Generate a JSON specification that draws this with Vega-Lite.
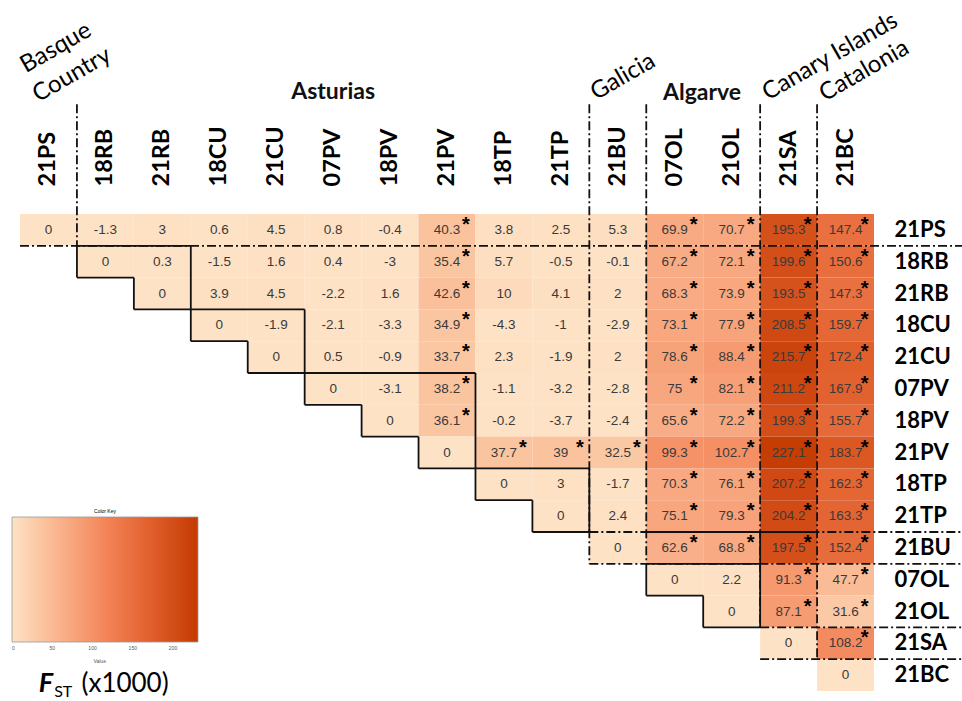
{
  "$schema": "https://vega.github.io/schema/vega-lite/v6.json",
  "width": 854,
  "height": 477,
  "autosize": {"type": "none"},
  "padding": {"left": 20, "top": 214, "right": 88, "bottom": 10},
  "background": "white",
  "config": {"view": {"stroke": null}, "font": "Lato"},
  "datasets": {
    "cells": [
      {"r":"21PS","c":"21PS","v":0,"s":0},{"r":"21PS","c":"18RB","v":-1.3,"s":0},{"r":"21PS","c":"21RB","v":3,"s":0},{"r":"21PS","c":"18CU","v":0.6,"s":0},{"r":"21PS","c":"21CU","v":4.5,"s":0},{"r":"21PS","c":"07PV","v":0.8,"s":0},{"r":"21PS","c":"18PV","v":-0.4,"s":0},{"r":"21PS","c":"21PV","v":40.3,"s":1},{"r":"21PS","c":"18TP","v":3.8,"s":0},{"r":"21PS","c":"21TP","v":2.5,"s":0},{"r":"21PS","c":"21BU","v":5.3,"s":0},{"r":"21PS","c":"07OL","v":69.9,"s":1},{"r":"21PS","c":"21OL","v":70.7,"s":1},{"r":"21PS","c":"21SA","v":195.3,"s":1},{"r":"21PS","c":"21BC","v":147.4,"s":1},
      {"r":"18RB","c":"18RB","v":0,"s":0},{"r":"18RB","c":"21RB","v":0.3,"s":0},{"r":"18RB","c":"18CU","v":-1.5,"s":0},{"r":"18RB","c":"21CU","v":1.6,"s":0},{"r":"18RB","c":"07PV","v":0.4,"s":0},{"r":"18RB","c":"18PV","v":-3,"s":0},{"r":"18RB","c":"21PV","v":35.4,"s":1},{"r":"18RB","c":"18TP","v":5.7,"s":0},{"r":"18RB","c":"21TP","v":-0.5,"s":0},{"r":"18RB","c":"21BU","v":-0.1,"s":0},{"r":"18RB","c":"07OL","v":67.2,"s":1},{"r":"18RB","c":"21OL","v":72.1,"s":1},{"r":"18RB","c":"21SA","v":199.6,"s":1},{"r":"18RB","c":"21BC","v":150.6,"s":1},
      {"r":"21RB","c":"21RB","v":0,"s":0},{"r":"21RB","c":"18CU","v":3.9,"s":0},{"r":"21RB","c":"21CU","v":4.5,"s":0},{"r":"21RB","c":"07PV","v":-2.2,"s":0},{"r":"21RB","c":"18PV","v":1.6,"s":0},{"r":"21RB","c":"21PV","v":42.6,"s":1},{"r":"21RB","c":"18TP","v":10,"s":0},{"r":"21RB","c":"21TP","v":4.1,"s":0},{"r":"21RB","c":"21BU","v":2,"s":0},{"r":"21RB","c":"07OL","v":68.3,"s":1},{"r":"21RB","c":"21OL","v":73.9,"s":1},{"r":"21RB","c":"21SA","v":193.5,"s":1},{"r":"21RB","c":"21BC","v":147.3,"s":1},
      {"r":"18CU","c":"18CU","v":0,"s":0},{"r":"18CU","c":"21CU","v":-1.9,"s":0},{"r":"18CU","c":"07PV","v":-2.1,"s":0},{"r":"18CU","c":"18PV","v":-3.3,"s":0},{"r":"18CU","c":"21PV","v":34.9,"s":1},{"r":"18CU","c":"18TP","v":-4.3,"s":0},{"r":"18CU","c":"21TP","v":-1,"s":0},{"r":"18CU","c":"21BU","v":-2.9,"s":0},{"r":"18CU","c":"07OL","v":73.1,"s":1},{"r":"18CU","c":"21OL","v":77.9,"s":1},{"r":"18CU","c":"21SA","v":208.5,"s":1},{"r":"18CU","c":"21BC","v":159.7,"s":1},
      {"r":"21CU","c":"21CU","v":0,"s":0},{"r":"21CU","c":"07PV","v":0.5,"s":0},{"r":"21CU","c":"18PV","v":-0.9,"s":0},{"r":"21CU","c":"21PV","v":33.7,"s":1},{"r":"21CU","c":"18TP","v":2.3,"s":0},{"r":"21CU","c":"21TP","v":-1.9,"s":0},{"r":"21CU","c":"21BU","v":2,"s":0},{"r":"21CU","c":"07OL","v":78.6,"s":1},{"r":"21CU","c":"21OL","v":88.4,"s":1},{"r":"21CU","c":"21SA","v":215.7,"s":1},{"r":"21CU","c":"21BC","v":172.4,"s":1},
      {"r":"07PV","c":"07PV","v":0,"s":0},{"r":"07PV","c":"18PV","v":-3.1,"s":0},{"r":"07PV","c":"21PV","v":38.2,"s":1},{"r":"07PV","c":"18TP","v":-1.1,"s":0},{"r":"07PV","c":"21TP","v":-3.2,"s":0},{"r":"07PV","c":"21BU","v":-2.8,"s":0},{"r":"07PV","c":"07OL","v":75,"s":1},{"r":"07PV","c":"21OL","v":82.1,"s":1},{"r":"07PV","c":"21SA","v":211.2,"s":1},{"r":"07PV","c":"21BC","v":167.9,"s":1},
      {"r":"18PV","c":"18PV","v":0,"s":0},{"r":"18PV","c":"21PV","v":36.1,"s":1},{"r":"18PV","c":"18TP","v":-0.2,"s":0},{"r":"18PV","c":"21TP","v":-3.7,"s":0},{"r":"18PV","c":"21BU","v":-2.4,"s":0},{"r":"18PV","c":"07OL","v":65.6,"s":1},{"r":"18PV","c":"21OL","v":72.2,"s":1},{"r":"18PV","c":"21SA","v":199.3,"s":1},{"r":"18PV","c":"21BC","v":155.7,"s":1},
      {"r":"21PV","c":"21PV","v":0,"s":0},{"r":"21PV","c":"18TP","v":37.7,"s":1},{"r":"21PV","c":"21TP","v":39,"s":1},{"r":"21PV","c":"21BU","v":32.5,"s":1},{"r":"21PV","c":"07OL","v":99.3,"s":1},{"r":"21PV","c":"21OL","v":102.7,"s":1},{"r":"21PV","c":"21SA","v":227.1,"s":1},{"r":"21PV","c":"21BC","v":183.7,"s":1},
      {"r":"18TP","c":"18TP","v":0,"s":0},{"r":"18TP","c":"21TP","v":3,"s":0},{"r":"18TP","c":"21BU","v":-1.7,"s":0},{"r":"18TP","c":"07OL","v":70.3,"s":1},{"r":"18TP","c":"21OL","v":76.1,"s":1},{"r":"18TP","c":"21SA","v":207.2,"s":1},{"r":"18TP","c":"21BC","v":162.3,"s":1},
      {"r":"21TP","c":"21TP","v":0,"s":0},{"r":"21TP","c":"21BU","v":2.4,"s":0},{"r":"21TP","c":"07OL","v":75.1,"s":1},{"r":"21TP","c":"21OL","v":79.3,"s":1},{"r":"21TP","c":"21SA","v":204.2,"s":1},{"r":"21TP","c":"21BC","v":163.3,"s":1},
      {"r":"21BU","c":"21BU","v":0,"s":0},{"r":"21BU","c":"07OL","v":62.6,"s":1},{"r":"21BU","c":"21OL","v":68.8,"s":1},{"r":"21BU","c":"21SA","v":197.5,"s":1},{"r":"21BU","c":"21BC","v":152.4,"s":1},
      {"r":"07OL","c":"07OL","v":0,"s":0},{"r":"07OL","c":"21OL","v":2.2,"s":0},{"r":"07OL","c":"21SA","v":91.3,"s":1},{"r":"07OL","c":"21BC","v":47.7,"s":1},
      {"r":"21OL","c":"21OL","v":0,"s":0},{"r":"21OL","c":"21SA","v":87.1,"s":1},{"r":"21OL","c":"21BC","v":31.6,"s":1},
      {"r":"21SA","c":"21SA","v":0,"s":0},{"r":"21SA","c":"21BC","v":108.2,"s":1},
      {"r":"21BC","c":"21BC","v":0,"s":0}
    ],
    "dashlines": [
      {"x1":1,"y1":-3.45,"x2":1,"y2":1},
      {"x1":0,"y1":1,"x2":16.55,"y2":1},
      {"x1":10,"y1":-3.45,"x2":10,"y2":11},
      {"x1":11,"y1":-3.45,"x2":11,"y2":11},
      {"x1":13,"y1":-3.45,"x2":13,"y2":13},
      {"x1":14,"y1":-3.45,"x2":14,"y2":14},
      {"x1":10,"y1":10,"x2":16.55,"y2":10},
      {"x1":10,"y1":11,"x2":16.55,"y2":11},
      {"x1":13,"y1":13,"x2":16.55,"y2":13},
      {"x1":13,"y1":14,"x2":16.55,"y2":14}
    ],
    "solidlines": [
      {"x1":1,"y1":1,"x2":3,"y2":1},{"x1":3,"y1":1,"x2":3,"y2":3},{"x1":1,"y1":1,"x2":1,"y2":2},{"x1":1,"y1":2,"x2":2,"y2":2},{"x1":2,"y1":2,"x2":2,"y2":3},{"x1":2,"y1":3,"x2":3,"y2":3},
      {"x1":3,"y1":3,"x2":5,"y2":3},{"x1":5,"y1":3,"x2":5,"y2":5},{"x1":3,"y1":3,"x2":3,"y2":4},{"x1":3,"y1":4,"x2":4,"y2":4},{"x1":4,"y1":4,"x2":4,"y2":5},{"x1":4,"y1":5,"x2":5,"y2":5},
      {"x1":5,"y1":5,"x2":8,"y2":5},{"x1":8,"y1":5,"x2":8,"y2":8},{"x1":5,"y1":5,"x2":5,"y2":6},{"x1":5,"y1":6,"x2":6,"y2":6},{"x1":6,"y1":6,"x2":6,"y2":7},{"x1":6,"y1":7,"x2":7,"y2":7},{"x1":7,"y1":7,"x2":7,"y2":8},{"x1":7,"y1":8,"x2":8,"y2":8},
      {"x1":8,"y1":8,"x2":10,"y2":8},{"x1":10,"y1":8,"x2":10,"y2":10},{"x1":8,"y1":8,"x2":8,"y2":9},{"x1":8,"y1":9,"x2":9,"y2":9},{"x1":9,"y1":9,"x2":9,"y2":10},{"x1":9,"y1":10,"x2":10,"y2":10},
      {"x1":11,"y1":10,"x2":14,"y2":10},{"x1":13,"y1":10,"x2":13,"y2":11},
      {"x1":11,"y1":11,"x2":13,"y2":11},{"x1":13,"y1":11,"x2":13,"y2":13},{"x1":11,"y1":11,"x2":11,"y2":12},{"x1":11,"y1":12,"x2":12,"y2":12},{"x1":12,"y1":12,"x2":12,"y2":13},{"x1":12,"y1":13,"x2":13,"y2":13}
    ]
  },
  "layer": [
    {
      "data": {"name": "cells"},
      "mark": {"type": "rect"},
      "encoding": {
        "x": {"field": "c", "type": "nominal", "sort": null,
          "scale": {"domain": ["21PS","18RB","21RB","18CU","21CU","07PV","18PV","21PV","18TP","21TP","21BU","07OL","21OL","21SA","21BC"], "paddingInner": 0, "paddingOuter": 0},
          "axis": {"orient": "top", "title": null, "domain": false, "ticks": false, "labelAngle": 270, "labelAlign": "left", "labelBaseline": "middle", "labelFont": "Lato", "labelFontWeight": "bold", "labelFontSize": 23.5, "labelColor": "#000", "labelPadding": 28, "labelOverlap": false}},
        "y": {"field": "r", "type": "nominal", "sort": null,
          "scale": {"domain": ["21PS","18RB","21RB","18CU","21CU","07PV","18PV","21PV","18TP","21TP","21BU","07OL","21OL","21SA","21BC"], "paddingInner": 0, "paddingOuter": 0},
          "axis": {"orient": "right", "title": null, "domain": false, "ticks": false, "labelAlign": "left", "labelBaseline": "middle", "labelFont": "Lato", "labelFontWeight": "bold", "labelFontSize": 22, "labelColor": "#000", "labelPadding": 20, "labelOverlap": false}},
        "color": {"field": "v", "type": "quantitative",
          "scale": {"domain": [0, 57.75, 115.5, 173.25, 231], "range": ["#fee2c6", "#f9b38e", "#f3855a", "#e05e2a", "#c43a00"], "clamp": true},
          "legend": {"orient": "none", "legendX": -8, "legendY": 295, "direction": "horizontal", "gradientLength": 186, "gradientThickness": 125, "title": "Color Key", "titleFontSize": 5, "titleFontWeight": "normal", "titleFont": "Liberation Sans", "titleAnchor": "middle", "titlePadding": 3, "labelFontSize": 5, "labelFont": "Liberation Sans", "labelColor": "#555", "values": [0, 50, 100, 150, 200], "gradientStrokeColor": "#999", "gradientStrokeWidth": 0.8, "padding": 0, "labelOffset": 4}}
      }
    },
    {
      "data": {"name": "cells"},
      "mark": {"type": "text", "font": "Liberation Sans", "fontSize": 13.5, "color": "#3a3a3a", "baseline": "middle", "align": "center"},
      "encoding": {
        "x": {"field": "c", "type": "nominal", "sort": null, "scale": {"domain": ["21PS","18RB","21RB","18CU","21CU","07PV","18PV","21PV","18TP","21TP","21BU","07OL","21OL","21SA","21BC"], "paddingInner": 0, "paddingOuter": 0}, "axis": null},
        "y": {"field": "r", "type": "nominal", "sort": null, "scale": {"domain": ["21PS","18RB","21RB","18CU","21CU","07PV","18PV","21PV","18TP","21TP","21BU","07OL","21OL","21SA","21BC"], "paddingInner": 0, "paddingOuter": 0}, "axis": null},
        "text": {"field": "v", "type": "nominal"}
      }
    },
    {
      "data": {"name": "cells"},
      "transform": [{"filter": "datum.s == 1"}],
      "mark": {"type": "text", "text": "*", "font": "Liberation Sans", "fontSize": 20, "fontWeight": "bold", "color": "#000", "baseline": "alphabetic", "align": "center", "dx": 19, "dy": 1},
      "encoding": {
        "x": {"field": "c", "type": "nominal", "sort": null, "scale": {"domain": ["21PS","18RB","21RB","18CU","21CU","07PV","18PV","21PV","18TP","21TP","21BU","07OL","21OL","21SA","21BC"], "paddingInner": 0, "paddingOuter": 0}, "axis": null},
        "y": {"field": "r", "type": "nominal", "sort": null, "scale": {"domain": ["21PS","18RB","21RB","18CU","21CU","07PV","18PV","21PV","18TP","21TP","21BU","07OL","21OL","21SA","21BC"], "paddingInner": 0, "paddingOuter": 0}, "axis": null}
      }
    },
    {
      "data": {"name": "dashlines"},
      "mark": {"type": "rule", "color": "#111", "strokeWidth": 1.8, "strokeDash": [9, 3, 2, 3]},
      "encoding": {
        "x": {"field": "x1", "type": "quantitative", "scale": {"domain": [0, 15], "nice": false, "zero": false}, "axis": null},
        "x2": {"field": "x2"},
        "y": {"field": "y1", "type": "quantitative", "scale": {"domain": [0, 15], "nice": false, "zero": false, "reverse": true}, "axis": null},
        "y2": {"field": "y2"}
      }
    },
    {
      "data": {"name": "solidlines"},
      "mark": {"type": "rule", "color": "#111", "strokeWidth": 1.8},
      "encoding": {
        "x": {"field": "x1", "type": "quantitative", "scale": {"domain": [0, 15], "nice": false, "zero": false}, "axis": null},
        "x2": {"field": "x2"},
        "y": {"field": "y1", "type": "quantitative", "scale": {"domain": [0, 15], "nice": false, "zero": false, "reverse": true}, "axis": null},
        "y2": {"field": "y2"}
      }
    },
    {
      "data": {"values": [
        {"label": "Basque", "x": 0.632, "y": -5.22},
        {"label": "Country", "x": 0.913, "y": -4.37},
        {"label": "Galicia", "x": 10.59, "y": -4.31},
        {"label": "Canary Islands", "x": 14.23, "y": -4.94},
        {"label": "Catalonia", "x": 14.83, "y": -4.5}
      ]},
      "mark": {"type": "text", "font": "Lato", "fontSize": 24, "angle": 330, "align": "center", "baseline": "middle", "color": "#000"},
      "encoding": {
        "x": {"field": "x", "type": "quantitative", "scale": {"domain": [0, 15], "nice": false, "zero": false}, "axis": null},
        "y": {"field": "y", "type": "quantitative", "scale": {"domain": [0, 15], "nice": false, "zero": false, "reverse": true}, "axis": null},
        "text": {"field": "label", "type": "nominal"}
      }
    },
    {
      "data": {"values": [
        {"label": "Asturias", "x": 5.5, "y": -3.84},
        {"label": "Algarve", "x": 11.98, "y": -3.81}
      ]},
      "mark": {"type": "text", "font": "Lato", "fontSize": 23, "fontWeight": "bold", "align": "center", "baseline": "middle", "color": "#111"},
      "encoding": {
        "x": {"field": "x", "type": "quantitative", "scale": {"domain": [0, 15], "nice": false, "zero": false}, "axis": null},
        "y": {"field": "y", "type": "quantitative", "scale": {"domain": [0, 15], "nice": false, "zero": false, "reverse": true}, "axis": null},
        "text": {"field": "label", "type": "nominal"}
      }
    },
    {
      "data": {"values": [{"label": "F", "x": 0.33, "y": 15.03}]},
      "mark": {"type": "text", "font": "Lato", "fontSize": 27, "fontWeight": "bold", "fontStyle": "italic", "align": "left", "baseline": "alphabetic", "color": "#000"},
      "encoding": {
        "x": {"field": "x", "type": "quantitative", "scale": {"domain": [0, 15], "nice": false, "zero": false}, "axis": null},
        "y": {"field": "y", "type": "quantitative", "scale": {"domain": [0, 15], "nice": false, "zero": false, "reverse": true}, "axis": null},
        "text": {"field": "label", "type": "nominal"}
      }
    },
    {
      "data": {"values": [{"label": "ST", "x": 0.6, "y": 15.19}]},
      "mark": {"type": "text", "font": "Lato", "fontSize": 16, "align": "left", "baseline": "alphabetic", "color": "#000"},
      "encoding": {
        "x": {"field": "x", "type": "quantitative", "scale": {"domain": [0, 15], "nice": false, "zero": false}, "axis": null},
        "y": {"field": "y", "type": "quantitative", "scale": {"domain": [0, 15], "nice": false, "zero": false, "reverse": true}, "axis": null},
        "text": {"field": "label", "type": "nominal"}
      }
    },
    {
      "data": {"values": [{"label": "(x1000)", "x": 1.08, "y": 15.03}]},
      "mark": {"type": "text", "font": "Lato", "fontSize": 26, "align": "left", "baseline": "alphabetic", "color": "#000"},
      "encoding": {
        "x": {"field": "x", "type": "quantitative", "scale": {"domain": [0, 15], "nice": false, "zero": false}, "axis": null},
        "y": {"field": "y", "type": "quantitative", "scale": {"domain": [0, 15], "nice": false, "zero": false, "reverse": true}, "axis": null},
        "text": {"field": "label", "type": "nominal"}
      }
    },
    {
      "data": {"values": [{"label": "Value", "x": 1.4, "y": 14.07}]},
      "mark": {"type": "text", "font": "Liberation Sans", "fontSize": 5, "align": "center", "baseline": "middle", "color": "#555"},
      "encoding": {
        "x": {"field": "x", "type": "quantitative", "scale": {"domain": [0, 15], "nice": false, "zero": false}, "axis": null},
        "y": {"field": "y", "type": "quantitative", "scale": {"domain": [0, 15], "nice": false, "zero": false, "reverse": true}, "axis": null},
        "text": {"field": "label", "type": "nominal"}
      }
    }
  ],
  "resolve": {"scale": {"x": "independent", "y": "independent"}}
}
